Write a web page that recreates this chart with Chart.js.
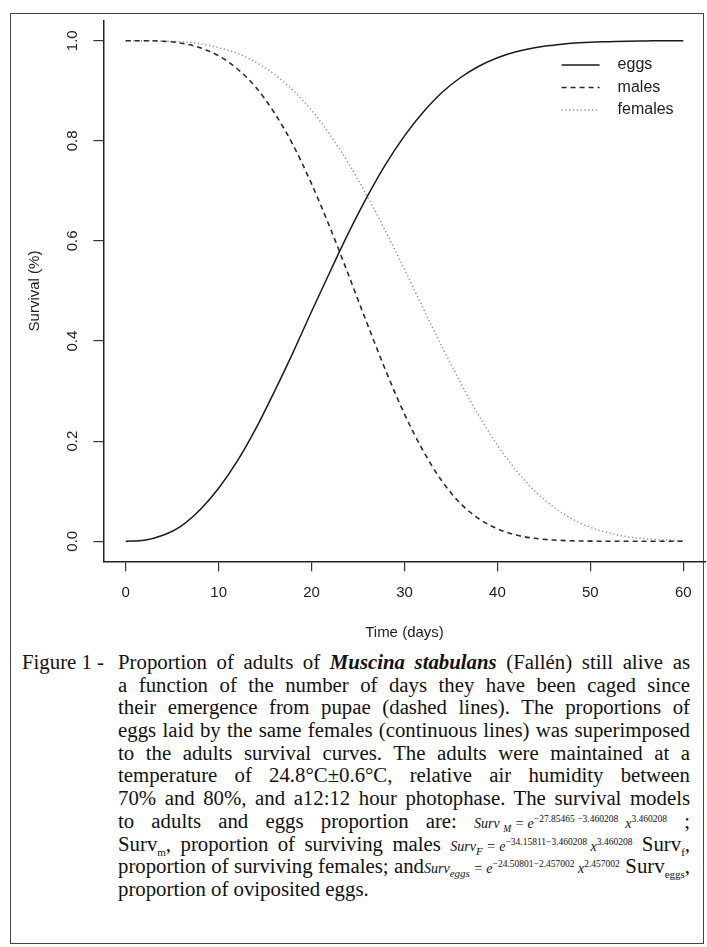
<!DOCTYPE html>
<html>
<head>
<meta charset="utf-8">
<script src="https://cdn.jsdelivr.net/npm/chart.js@4/dist/chart.umd.min.js"></script>
<style>
html,body{margin:0;padding:0;background:#fff;}
body{width:707px;height:947px;position:relative;overflow:hidden;}
#frame{position:absolute;left:10px;top:13px;width:694px;height:931px;border:1.5px solid #444;box-sizing:border-box;}
#chartWrap{position:absolute;left:0;top:0;width:707px;height:650px;}
#cap{position:absolute;left:0;top:651px;width:707px;font-family:"Liberation Serif","Times New Roman",serif;font-size:20.8px;color:#111;}
.fig{position:absolute;left:22px;top:0;white-space:nowrap;height:22.7px;line-height:22.7px;}
.body{position:absolute;left:118px;top:0;width:572px;}
.ln{height:22.7px;line-height:22.7px;white-space:nowrap;text-align:justify;text-align-last:justify;}
.ln.last{text-align-last:left;}
.f{display:inline-block;font-style:italic;font-size:14px;white-space:nowrap;}
sup,sub{font-size:9.5px;line-height:0;}
.f sup{font-style:normal;}
.u sub{font-size:11px;}
</style>
</head>
<body>
<div id="frame"></div>
<div id="chartWrap"><canvas id="c" width="707" height="650"></canvas></div>
<div id="cap">
  <div class="fig">Figure 1 -</div>
  <div class="body">
    <div class="ln">Proportion of adults of <b><i>Muscina stabulans</i></b> (Fallén) still alive as</div>
    <div class="ln">a function of the number of days they have been caged since</div>
    <div class="ln">their emergence from pupae (dashed lines). The proportions of</div>
    <div class="ln">eggs laid by the same females (continuous lines) was superimposed</div>
    <div class="ln">to the adults survival curves. The adults were maintained at a</div>
    <div class="ln">temperature of 24.8°C±0.6°C, relative air humidity between</div>
    <div class="ln">70% and 80%, and a12:12 hour photophase. The survival models</div>
    <div class="ln">to adults and eggs proportion are: <span class="f">Surv <sub>M</sub> = e<sup>−27.85465 −3.460208</sup> &nbsp;x<sup>3.460208</sup></span> ;</div>
    <div class="ln u">Surv<sub>m</sub>, proportion of surviving males <span class="f">Surv<sub>F</sub> = e<sup>−34.15811−3.460208</sup> x<sup>3.460208</sup></span> Surv<sub>f</sub>,</div>
    <div class="ln u">proportion of surviving females; and<span class="f">Surv<sub>eggs</sub> = e<sup>−24.50801−2.457002</sup> x<sup>2.457002</sup></span> Surv<sub>eggs</sub>,</div>
    <div class="ln last">proportion of oviposited eggs.</div>
  </div>
</div>
<script>
// ---- data ----
const days = [0,2,4,6,8,10,12,14,16,18,20,22,24,26,28,30,32,34,36,38,40,42,44,46,48,50,52,54,56,58,60];
const eggs = [0.000,0.002,0.012,0.031,0.063,0.106,0.160,0.225,0.299,0.377,0.459,0.539,0.617,0.689,0.754,0.810,0.857,0.896,0.926,0.949,0.966,0.978,0.986,0.991,0.995,0.997,0.998,0.999,0.9995,1.000,1.000];
const males = [1.000,1.000,0.999,0.995,0.986,0.970,0.944,0.907,0.856,0.792,0.714,0.626,0.531,0.434,0.340,0.254,0.181,0.121,0.076,0.045,0.025,0.0125,0.006,0.0025,0.001,0.0003,0.0001,0.000,0.000,0.000,0.000];
const females = [1.000,1.000,0.999,0.998,0.994,0.986,0.975,0.957,0.933,0.901,0.861,0.812,0.754,0.689,0.618,0.543,0.466,0.390,0.318,0.251,0.192,0.142,0.101,0.069,0.045,0.028,0.017,0.009,0.005,0.0025,0.001];
const seriesNames = ['eggs','males','females'];
const xTicks = [0,10,20,30,40,50,60];
const yTicks = [0,0.2,0.4,0.6,0.8,1.0];
const xTitle = 'Time (days)';
const yTitle = 'Survival (%)';

const FAM = '"Liberation Sans", Arial, Helvetica, sans-serif';
Chart.defaults.font.family = FAM;
Chart.defaults.color = '#222';

const toPts = arr => days.map((d, i) => ({x: d, y: arr[i]}));

const insetLegend = {
  id: 'insetLegend',
  afterDatasetsDraw(chart) {
    const ctx = chart.ctx;
    const x0 = chart.chartArea.right - 144;
    ctx.save();
    chart.data.datasets.forEach((ds, i) => {
      const y = 65 + i * 22.5;
      ctx.beginPath();
      ctx.setLineDash(ds.borderDash || []);
      ctx.strokeStyle = ds.borderColor;
      ctx.lineWidth = ds.borderWidth;
      ctx.moveTo(x0, y);
      ctx.lineTo(x0 + 38, y);
      ctx.stroke();
      ctx.setLineDash([]);
      ctx.fillStyle = '#222';
      ctx.font = '16px ' + FAM;
      ctx.textBaseline = 'middle';
      ctx.textAlign = 'left';
      ctx.fillText(ds.label, x0 + 56, y);
    });
    ctx.restore();
  }
};

const gridOpts = {drawOnChartArea: false, drawTicks: true, tickLength: 10, color: '#333', lineWidth: 1.2};
const borderOpts = {display: true, color: '#222', width: 1.5};

new Chart(document.getElementById('c'), {
  type: 'line',
  data: {
    datasets: [
      {label: seriesNames[0], data: toPts(eggs), borderColor: '#1a1a1a', borderWidth: 1.5, borderDash: []},
      {label: seriesNames[1], data: toPts(males), borderColor: '#2a2a2a', borderWidth: 1.6, borderDash: [5, 4]},
      {label: seriesNames[2], data: toPts(females), borderColor: '#8a8a8a', borderWidth: 1.4, borderDash: [1.2, 2.6]}
    ]
  },
  options: {
    responsive: false,
    animation: false,
    layout: {padding: {left: 0, right: 1.4, top: 20.7, bottom: 0}},
    elements: {point: {radius: 0}, line: {cubicInterpolationMode: 'monotone', fill: false}},
    plugins: {legend: {display: false}, tooltip: {enabled: false}},
    scales: {
      x: {
        type: 'linear', min: -2.4, max: 62.4,
        afterBuildTicks: s => { s.ticks = xTicks.map(v => ({value: v})); },
        afterFit: s => { s.height = 88.7; },
        ticks: {callback: v => String(v), font: {size: 15}, color: '#222', padding: 13, maxRotation: 0, autoSkip: false},
        grid: gridOpts,
        border: borderOpts,
        title: {display: true, text: xTitle, font: {size: 15}, color: '#222', padding: {top: 0, bottom: 8}}
      },
      y: {
        type: 'linear', min: -0.04, max: 1.04,
        afterBuildTicks: s => { s.ticks = yTicks.map(v => ({value: v})); },
        afterFit: s => { s.width = 103.4; },
        ticks: {callback: v => v.toFixed(1), font: {size: 15}, color: '#222', padding: 10, minRotation: 90, maxRotation: 90, crossAlign: 'center', autoSkip: false},
        grid: gridOpts,
        border: borderOpts,
        title: {display: true, text: yTitle, font: {size: 15}, color: '#222', padding: {top: 26, bottom: 0}}
      }
    }
  },
  plugins: [insetLegend]
});
</script>
</body>
</html>
